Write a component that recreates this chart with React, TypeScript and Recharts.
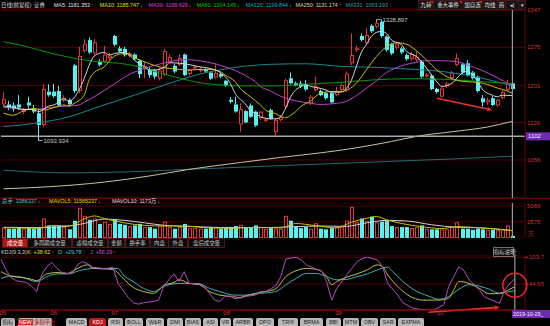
import React from 'react';
import { ComposedChart, Bar, Line, XAxis, YAxis, ReferenceLine, ReferenceDot, CartesianGrid } from 'recharts';

const FONT = '"Liberation Sans", Arial, "Noto Sans CJK SC", sans-serif';
const RED = '#e83636';
const CYAN = '#54f2f2';
const GRID = '#560000';
const AXIS = '#6a0000';
const TICK = '#d83030';
const UPA = '#ff3030';
const DNA = '#20e0e0';

// ---- candles (daily, 2019-05 .. 2019-10-29) ----
const openP = [
  1164, 1164, 1162, 1164, 1149, 1168, 1156, 1147, 1124, 1189,
  1189, 1190, 1171, 1173, 1240, 1190, 1268, 1289, 1263, 1247,
  1247, 1254, 1297, 1273, 1272, 1258, 1261, 1249, 1233, 1231,
  1230, 1214, 1222, 1247, 1239, 1241, 1261, 1223, 1234, 1229,
  1232, 1226, 1216, 1223, 1210, 1173, 1164, 1125, 1151, 1162,
  1150, 1137, 1132, 1153, 1110, 1134, 1160, 1215, 1205, 1205,
  1203, 1166, 1192, 1190, 1186, 1186, 1182, 1192, 1192, 1244,
  1270, 1297, 1283, 1317, 1315, 1325, 1296, 1281, 1274, 1273,
  1260, 1252, 1251, 1247, 1218, 1220, 1194, 1179, 1199, 1215,
  1241, 1242, 1244, 1226, 1218, 1176, 1168, 1176, 1162, 1176,
  1192, 1205,
];
const highP = [
  1188, 1171, 1168, 1182, 1157, 1179, 1163, 1153, 1203, 1203,
  1204, 1200, 1182, 1176, 1243, 1276, 1291, 1294, 1291, 1252,
  1278, 1264, 1299, 1277, 1276, 1266, 1264, 1252, 1247, 1236,
  1233, 1236, 1272, 1261, 1243, 1262, 1263, 1233, 1240, 1236,
  1234, 1228, 1242, 1225, 1212, 1178, 1179, 1166, 1153, 1166,
  1152, 1152, 1138, 1156, 1137, 1143, 1214, 1226, 1208, 1210,
  1211, 1182, 1218, 1193, 1188, 1190, 1198, 1205, 1228, 1302,
  1278, 1302, 1312, 1320, 1328.897, 1328, 1298, 1284, 1286, 1276,
  1263, 1266, 1267, 1250, 1225, 1223, 1196, 1198, 1208, 1229,
  1263, 1245, 1250, 1229, 1220, 1182, 1177, 1180, 1175, 1192,
  1212, 1208,
];
const lowP = [
  1160, 1153, 1150, 1153, 1145, 1156, 1147, 1093.934, 1121, 1179,
  1177, 1160, 1168, 1160, 1186, 1186, 1265, 1262, 1260, 1238,
  1244, 1250, 1277, 1264, 1257, 1255, 1249, 1215, 1215, 1216,
  1213, 1211, 1219, 1245, 1225, 1238, 1219, 1220, 1232, 1226,
  1225, 1211, 1214, 1215, 1198, 1166, 1148, 1111, 1127, 1138,
  1120, 1134, 1130, 1134, 1103, 1131, 1157, 1203, 1199, 1196,
  1190, 1163, 1189, 1180, 1173, 1165, 1180, 1190, 1189, 1240,
  1266, 1286, 1280, 1303, 1312, 1294, 1267, 1260, 1270, 1262,
  1249, 1249, 1247, 1215, 1216, 1192, 1185, 1177, 1196, 1212,
  1238, 1223, 1218, 1212, 1187, 1160, 1163, 1161, 1159, 1174,
  1190, 1192,
];
const closeP = [
  1175, 1158, 1155, 1158, 1153, 1162, 1150, 1124, 1194, 1182,
  1180, 1163, 1177, 1164, 1190, 1258, 1282, 1265, 1285, 1241,
  1261, 1259, 1280, 1267, 1260, 1263, 1252, 1223, 1238, 1221,
  1218, 1230, 1268, 1256, 1228, 1254, 1221, 1231, 1237, 1233,
  1228, 1214, 1225, 1218, 1201, 1169, 1150, 1155, 1129, 1140,
  1123, 1150, 1135, 1136, 1134, 1140, 1211, 1205, 1201, 1199,
  1193, 1179, 1199, 1182, 1176, 1168, 1190, 1202, 1224, 1260,
  1273, 1289, 1299, 1306, 1322, 1297, 1270, 1263, 1281, 1265,
  1252, 1262, 1257, 1218, 1222, 1194, 1188, 1195, 1205, 1226,
  1254, 1226, 1221, 1215, 1190, 1168, 1173, 1163, 1173, 1188,
  1205, 1194,
];
// volume, 万手
const volume = [
  1640, 1480, 1480, 1730, 1480, 1640, 1480, 1640, 3100, 2000,
  1890, 1890, 1730, 1380, 2750, 4790, 3520, 2900, 3100, 2240,
  2600, 2240, 3000, 2240, 2090, 1890, 2000, 2240, 1730, 1730,
  1480, 2000, 2600, 1730, 1480, 1730, 2240, 1580, 1580, 1480,
  1480, 1730, 1730, 1480, 1580, 1730, 1890, 2090, 1730, 1580,
  2000, 1730, 1480, 1580, 1480, 1480, 3520, 2750, 1890, 1580,
  1730, 1480, 2350, 1480, 1380, 1580, 1730, 1730, 2750, 4940,
  2500, 3100, 2750, 3400, 2500, 2600, 2750, 1890, 1730, 1730,
  1730, 1580, 1730, 2000, 1480, 1380, 1380, 1380, 1380, 1730,
  2500, 1480, 1480, 1300, 1480, 1380, 1300, 1300, 1300, 1400,
  2000, 338,
];

// moving averages: [candle index, value]
const ma5Pts = [[0,1161],[2,1158],[4,1154],[6,1154],[7,1150],[9,1161],[10,1163],[12,1175],[13,1170],[14,1177],[16,1214],[17,1240],[18,1258],[20,1265],[21,1260],[22,1263],[24,1265],[25,1260],[26,1250],[28,1237],[29,1231],[30,1231],[32,1237],[33,1245],[35,1244],[37,1241],[39,1237],[41,1234],[43,1226],[45,1205],[46,1185],[48,1165],[49,1152],[50,1147],[51,1140],[53,1136],[54,1136],[55,1140],[56,1157],[57,1179],[59,1199],[60,1202],[61,1199],[63,1195],[64,1192],[65,1188],[67,1188],[68,1195],[69,1210],[70,1237],[71,1265],[72,1280],[73,1296],[74,1304],[75,1306],[76,1302],[77,1289],[79,1280],[80,1267],[82,1257],[84,1234],[86,1208],[87,1199],[89,1205],[90,1215],[91,1225],[92,1228],[93,1222],[94,1210],[95,1194],[97,1182],[98,1179],[99,1182],[101,1181.353]];
const ma10Pts = [[0,1147],[2,1143],[4,1152],[6,1156],[8,1153],[10,1158],[12,1163],[13,1161],[14,1166],[16,1182],[17,1212],[18,1226],[20,1237],[21,1248],[22,1258],[24,1263],[25,1262],[26,1255],[28,1247],[29,1243],[31,1237],[33,1234],[35,1232],[37,1231],[39,1232],[41,1232],[43,1228],[44,1221],[46,1208],[47,1195],[49,1179],[51,1163],[52,1153],[54,1146],[55,1141],[56,1138],[57,1143],[58,1150],[59,1160],[61,1171],[62,1180],[63,1186],[65,1189],[66,1189],[67,1189],[70,1205],[72,1231],[74,1257],[76,1276],[78,1284],[80,1281],[82,1268],[84,1250],[86,1231],[88,1218],[90,1211],[92,1208],[94,1207],[96,1203],[98,1196],[100,1190],[101,1185.747]];
const ma20Pts = [[0,1158],[3,1156],[6,1154],[9,1158],[13,1161],[15,1163],[16,1168],[18,1179],[20,1191],[22,1204],[24,1217],[26,1227],[28,1234],[30,1240],[32,1245],[34,1249],[36,1251],[38,1250],[40,1247],[42,1243],[44,1237],[46,1230],[48,1220],[50,1208],[51,1199],[53,1190],[55,1180],[58,1171],[61,1166],[63,1164],[66,1166],[68,1170],[71,1188],[74,1210],[76,1226],[79,1239],[82,1246],[84,1249],[87,1249],[90,1247],[92,1241],[95,1230],[98,1216],[100,1205],[101,1199.629]];
const ma60Pts = [[0,1286],[3,1280],[7,1270],[11,1260],[15,1252],[19,1247],[23,1244],[27,1237],[31,1225],[35,1215],[39,1206],[43,1202],[47,1200],[51,1200],[54,1200],[60,1203],[67,1207],[74,1212],[80,1214],[87,1213],[94,1209],[101,1204.145]];
const ma120Pts = [[0,1121],[6,1127],[13,1140],[19,1160],[26,1182],[32,1202],[39,1223],[46,1236],[53,1242],[60,1243],[67,1238],[74,1236],[80,1233],[87,1228],[94,1217],[101,1199.844]];
const ma250Pts = [[0,1000],[9,1004],[20,1013],[29,1025],[37,1038],[47,1051],[55,1061],[63,1070],[69,1078],[77,1092],[82,1102],[90,1112],[96,1120],[101,1131.174]];
const ma331Pts = [[0,1036],[13,1031],[25,1033],[37,1038],[55,1045],[76,1053],[89,1058],[101,1063.193]];
const mavol5Pts = [[0,1650],[7,1550],[10,2000],[13,1900],[16,3000],[18,3500],[20,3100],[24,2400],[28,2000],[32,1900],[36,1900],[40,1650],[45,1550],[50,1700],[55,1600],[58,2300],[62,1950],[66,1600],[69,2500],[72,3100],[74,3400],[76,2900],[79,2300],[83,1800],[87,1500],[90,1800],[94,1650],[98,1400],[101,1156.5]];
const mavol10Pts = [[0,1700],[8,1650],[12,1800],[16,2300],[20,3000],[24,2800],[28,2400],[32,2000],[38,1800],[45,1650],[52,1650],[58,1800],[63,1900],[68,1850],[72,2400],[76,2800],[80,2700],[85,2100],[90,1700],[95,1600],[101,1173]];
// KDJ(9,3,3)
const kPts = [[0,72],[2,62],[4,59],[6,55],[7,52],[9,67],[11,70],[13,68],[15,79],[17,87],[18,80],[20,78],[22,77],[24,57],[26,37],[28,28],[30,24],[31,31],[32,42],[34,48],[35,54],[37,46],[39,43],[41,28],[43,20],[45,17],[46,13],[48,18],[50,24],[52,28],[54,34],[56,61],[58,74],[60,79],[62,77],[64,61],[65,43],[66,50],[68,60],[70,67],[72,76],[74,87],[75,83],[76,65],[78,39],[80,20],[83,9],[86,9],[88,13],[89,32],[90,50],[92,46],[94,35],[96,23],[98,24],[100,33],[101,38.62]];
const dPts = [[0,57],[2,62],[4,60],[7,50],[9,61],[11,67],[13,67],[16,76],[18,79],[21,79],[23,79],[24,65],[26,50],[28,35],[30,28],[32,39],[34,45],[36,46],[39,45],[41,35],[43,28],[46,20],[48,20],[51,24],[54,28],[56,43],[58,57],[60,68],[62,68],[64,61],[66,54],[68,55],[70,61],[72,67],[74,76],[76,82],[77,72],[79,50],[81,33],[84,18],[86,11],[88,17],[90,33],[92,43],[94,40],[96,33],[98,24],[100,28],[101,29.78]];
const jPts = [[0,99],[1,76],[2,58],[3,52],[4,50],[5,48],[6,40],[7,28],[8,65],[9,83],[10,92],[11,79],[12,70],[13,68],[14,67],[15,87],[16,94],[17,90],[18,82],[20,79],[21,79],[22,82],[23,46],[25,15],[26,3],[27,0],[28,3],[30,6],[31,9],[32,40],[33,54],[34,67],[35,50],[36,72],[37,46],[38,45],[39,46],[40,39],[42,9],[43,6],[44,17],[45,18],[46,17],[47,13],[48,17],[50,20],[51,28],[52,28],[54,40],[55,61],[56,100],[58,104],[59,98],[60,87],[62,77],[63,74],[64,50],[65,9],[66,35],[68,65],[70,94],[71,101],[72,104],[74,98],[75,83],[76,46],[78,20],[79,3],[81,-9],[83,-12.5],[85,-12.5],[87,-2],[88,39],[90,83],[91,74],[92,54],[94,32],[95,17],[96,11],[98,2],[99,31],[100,46],[101,56.29]];

const priceTicks = [1347, 1275, 1201, 1129, 1056];
const volTicks = [5069, 2575];
const kdjTicks = [103.7, 44.65];
const monthTickIdx = [0, 10, 22, 44, 66, 86];
const monthLabels = ['05', '06', '07', '08', '09', '10'];
const crossPrice = 1102;
const lastIdx = openP.length - 1;
const SLOTS = openP.length + 2;

const mapOf = (pts: number[][]) => new Map(pts.map(([i, v]) => [i, v] as [number, number]));
const M = {
  ma5: mapOf(ma5Pts), ma10: mapOf(ma10Pts), ma20: mapOf(ma20Pts), ma60: mapOf(ma60Pts),
  ma120: mapOf(ma120Pts), ma250: mapOf(ma250Pts), ma331: mapOf(ma331Pts),
  mv5: mapOf(mavol5Pts), mv10: mapOf(mavol10Pts), k: mapOf(kPts), d: mapOf(dPts), j: mapOf(jPts),
};

const rows = Array.from({ length: SLOTS }, (_, i) => {
  const has = i < openP.length;
  const r: any = {
    i,
    open: has ? openP[i] : null,
    high: has ? highP[i] : null,
    low: has ? lowP[i] : null,
    close: has ? closeP[i] : null,
    vol: has ? volume[i] : null,
    up: has ? closeP[i] >= openP[i] : false,
  };
  (Object.keys(M) as (keyof typeof M)[]).forEach((k) => { r[k] = M[k].has(i) ? M[k].get(i) : null; });
  return r;
});

let hiIdx = 0, loIdx = 0;
highP.forEach((v, i) => { if (v > highP[hiIdx]) hiIdx = i; });
lowP.forEach((v, i) => { if (v < lowP[loIdx]) loIdx = i; });

const CandleShape = (p: any) => {
  const { x, y, width, height, payload } = p;
  if (!payload || payload.open == null) return null;
  const top = Math.min(y, y + height);
  const h = Math.abs(height);
  const { open, close, high, low } = payload;
  const span = high - low || 1;
  const py = (v: number) => top + ((high - v) / span) * h;
  const cx = Math.round(x + width / 2 - 0.5);
  const up = close >= open;
  const col = up ? RED : CYAN;
  const bt = py(Math.max(open, close));
  const bh = Math.max(1, py(Math.min(open, close)) - bt);
  const wx = cx + 0.5;
  return (
    <g>
      <line x1={wx} x2={wx} y1={top} y2={bt} stroke={col} strokeWidth={1} />
      <line x1={wx} x2={wx} y1={bt + bh} y2={top + h} stroke={col} strokeWidth={1} />
      {up ? (
        <rect x={cx - 0.5} y={bt + 0.5} width={3} height={Math.max(0.5, bh - 1)} fill="#000" stroke={col} strokeWidth={1} />
      ) : (
        <rect x={cx - 1} y={bt} width={4} height={bh} fill={col} />
      )}
      {payload.i === loIdx && (
        <g>
          <polyline points={`${wx},${top + h - 2} ${wx},${top + h} ${wx + 4},${top + h}`} fill="none" stroke="#c8c8c8" strokeWidth={0.8} />
          <text x={wx + 5} y={top + h} dy="0.35em" fontSize={6} fill="#c8c8c8" fontFamily={FONT}>{String(low)}</text>
        </g>
      )}
      {payload.i === hiIdx && (
        <g>
          <polyline points={`${wx},${top + 2} ${wx},${top} ${wx + 5},${top}`} fill="none" stroke="#c8c8c8" strokeWidth={0.8} />
          <text x={wx + 6} y={top} dy="0.35em" fontSize={6} fill="#c8c8c8" fontFamily={FONT}>{String(high)}</text>
        </g>
      )}
    </g>
  );
};

const VolShape = (p: any) => {
  const { x, y, width, height, payload } = p;
  if (!payload || payload.vol == null) return null;
  const top = Math.min(y, y + height);
  const h = Math.max(1, Math.abs(height));
  const cx = Math.round(x + width / 2 - 0.5);
  if (payload.up) {
    return <rect x={cx - 0.5} y={top + 0.5} width={3} height={Math.max(0.5, h - 1)} fill="#000" stroke={RED} strokeWidth={1} />;
  }
  return <rect x={cx - 1} y={top} width={4} height={h} fill={CYAN} />;
};

const ArrowShape = (p: any) => {
  const { x1, y1, x2, y2 } = p;
  if ([x1, y1, x2, y2].some((v) => v == null || isNaN(v))) return null;
  const a = Math.atan2(y2 - y1, x2 - x1);
  const L = 5, W = 2.2;
  const bx = x2 - L * Math.cos(a), by = y2 - L * Math.sin(a);
  const pts = `${x2},${y2} ${bx - W * Math.sin(a)},${by + W * Math.cos(a)} ${bx + W * Math.sin(a)},${by - W * Math.cos(a)}`;
  return (
    <g>
      <line x1={x1} y1={y1} x2={bx} y2={by} stroke="#f03030" strokeWidth={1.6} />
      <polygon points={pts} fill="#f03030" />
    </g>
  );
};

const PriceTag = (p: any) => {
  const vb = p.viewBox;
  if (!vb) return null;
  const x = vb.x + vb.width + 1;
  const y = vb.y;
  return (
    <g>
      <rect x={x} y={y - 4} width={30} height={8} fill="#6c2bb0" />
      <text x={x + 2} y={y} dy="0.36em" fontSize={6} fill="#f4ecff" fontFamily={FONT}>{String(crossPrice)}</text>
    </g>
  );
};

const DateTick = (p: any) => {
  const { x, y, payload } = p;
  const k = monthTickIdx.indexOf(payload.value);
  return (
    <text x={x - 1.5} y={y + 5} fontSize={6} fill={TICK} fontFamily={FONT} textAnchor="start">{k >= 0 ? monthLabels[k] : ''}</text>
  );
};

const FS = 5.4;
// text + optional arrow, positioned at x (left) and y (top)
const Item = ({ x, y, c = '#d4d4d4', t, a, ac }: any) => (
  <div style={{ position: 'absolute', left: x, top: y, color: c, fontSize: FS, lineHeight: '8px', whiteSpace: 'nowrap' }}>
    {t}{a && <span style={{ color: ac, marginLeft: 1 }}>{a}</span>}
  </div>
);

const lineProps = { dot: false, activeDot: false, connectNulls: true, isAnimationActive: false, strokeWidth: 1 } as any;
const tickStyle = { fill: TICK, fontSize: 6, fontFamily: FONT };

const headerItems: [string, string, string, string, number][] = [
  ['日线(前复权)', '#d8d8d8', '', '', 2.5], ['证券', '#d8d8d8', '', '', 9],
  ['MA5: 1181.353', '#e4e4e4', '↑', UPA, 6],
  ['MA10: 1185.747', '#e8e800', '↓', DNA, 6],
  ['MA20: 1199.629', '#e040e0', '↓', DNA, 5],
  ['MA60: 1204.145', '#00d000', '↓', DNA, 6],
  ['MA120: 1199.844', '#00b8c8', '↓', DNA, 4],
  ['MA250: 1131.174', '#e0d8a0', '↑', UPA, 4],
  ['MA331: 1063.193', '#2ea0a8', '↑', UPA, 0],
];
const buttons: [string, number, number, boolean][] = [
  ['九转', 418, 433, true], ['重大事件', 433, 462, true], ['加自选', 462, 482, true],
  ['均线', 482, 497, false], ['画', 497, 505, false], ['◂|', 505, 518, false], ['▾', 518, 525, false],
];
const volTabs: [string, number, number][] = [
  ['成交量', 2, 27], ['多周期成交量', 27, 71], ['虚拟成交量', 72, 107], ['金额', 108, 124],
  ['换手率', 125, 149], ['内盘', 150, 168], ['外盘', 168, 187], ['盘后成交量', 188, 224],
];
const indTabs: [string, number, number][] = [
  ['指标', 1, 16], ['MACD', 66, 88], ['KDJ', 89, 107], ['RSI', 108, 124], ['BOLL', 125, 144],
  ['W&R', 146, 165], ['DMI', 167, 184], ['BIAS', 185, 202], ['ASI', 203, 219], ['VR', 220, 232],
  ['ARBR', 233, 254], ['DPO', 256, 275], ['TRIX', 278, 299], ['BRMA', 300, 324], ['BBI', 326, 342],
  ['MTM', 343, 360], ['OBV', 361, 379], ['SAR', 380, 397], ['EXPMA', 398, 425],
];

export default function App() {
  return (
    <div style={{ position: 'relative', width: 550, height: 326, background: '#000', overflow: 'hidden', fontFamily: FONT }}>
      <style>{'body{margin:0;background:#000}'}</style>

      {/* main price panel: plot area y 9..198 */}
      <div style={{ position: 'absolute', left: 0, top: 0 }}>
        <ComposedChart width={550} height={198} data={rows} margin={{ top: 9, right: 0, bottom: 0, left: 1 }}>
          <CartesianGrid horizontal vertical={false} stroke={GRID} />
          <XAxis dataKey="i" hide />
          <YAxis orientation="right" width={25} domain={[982.1, 1349.5]} allowDataOverflow type="number" ticks={priceTicks} interval={0}
            tick={tickStyle} tickLine={false} tickSize={0} tickMargin={2} axisLine={{ stroke: AXIS }} />
          <Line dataKey="ma331" stroke="#256a72" type="monotone" {...lineProps} />
          <Line dataKey="ma250" stroke="#c8c49a" type="monotone" {...lineProps} />
          <ReferenceLine y={crossPrice} stroke="#a8a8a8" strokeWidth={1.5} label={<PriceTag />} />
          <Line dataKey="ma120" stroke="#16888e" type="monotone" {...lineProps} />
          <Line dataKey="ma60" stroke="#009a00" type="monotone" {...lineProps} />
          <Bar dataKey={(d: any) => (d.open == null ? null : [d.low, d.high])} shape={CandleShape} barSize={3} isAnimationActive={false} />
          <Line dataKey="ma20" stroke="#c040d0" type="monotone" {...lineProps} />
          <Line dataKey="ma10" stroke="#c4c000" type="monotone" {...lineProps} />
          <Line dataKey="ma5" stroke="#d8d8d8" type="monotone" {...lineProps} />
          <ReferenceLine x={lastIdx} stroke="#9a9a9a" strokeWidth={1.2} />
          <ReferenceLine segment={[{ x: 86, y: 1176 }, { x: 97, y: 1153 }]} shape={ArrowShape} ifOverflow="visible" />
        </ComposedChart>
      </div>

      {/* volume panel */}
      <div style={{ position: 'absolute', left: 0, top: 203 }}>
        <ComposedChart width={550} height={35} data={rows} margin={{ top: 0, right: 0, bottom: 0, left: 1 }}>
          <CartesianGrid horizontal vertical={false} stroke={GRID} />
          <XAxis dataKey="i" hide />
          <YAxis orientation="right" width={25} domain={[0, 5556]} allowDataOverflow type="number" ticks={volTicks} interval={0}
            tick={tickStyle} tickLine={false} tickSize={0} tickMargin={2} axisLine={{ stroke: AXIS }} />
          <Bar dataKey="vol" shape={VolShape} barSize={3} isAnimationActive={false} />
          <Line dataKey="mv10" stroke="#d0d0d0" type="monotone" {...lineProps} />
          <Line dataKey="mv5" stroke="#c8c400" type="monotone" {...lineProps} />
          <ReferenceLine x={lastIdx} stroke="#9a9a9a" strokeWidth={1.2} />
        </ComposedChart>
      </div>

      {/* KDJ panel */}
      <div style={{ position: 'absolute', left: 0, top: 255 }}>
        <ComposedChart width={550} height={64} data={rows} margin={{ top: 0, right: 0, bottom: 0, left: 1 }}>
          <CartesianGrid horizontal vertical={false} stroke={GRID} />
          <XAxis dataKey="i" ticks={monthTickIdx} interval={0} tickLine={false} tickSize={0} tickMargin={0} height={9}
            axisLine={{ stroke: '#a00000' }} tick={<DateTick />} />
          <YAxis orientation="right" width={25} domain={[-12.9, 108.8]} allowDataOverflow type="number" ticks={kdjTicks} interval={0}
            tick={tickStyle} tickLine={{ stroke: TICK }} tickSize={3} tickMargin={1} axisLine={{ stroke: AXIS }} />
          <Line dataKey="d" stroke="#34b4b4" type="monotone" {...lineProps} />
          <Line dataKey="k" stroke="#c0c050" type="monotone" {...lineProps} />
          <Line dataKey="j" stroke="#b848c8" type="linear" {...lineProps} />
          <ReferenceLine x={lastIdx} stroke="#9a9a9a" strokeWidth={1.2} ifOverflow="visible" />
          <ReferenceDot x={lastIdx} y={42} r={12} fill="none" stroke="#e82828" strokeWidth={1.5} ifOverflow="visible" />
          <ReferenceLine segment={[{ x: 84, y: -17.9 }, { x: 98, y: -6.9 }]} shape={ArrowShape} ifOverflow="visible" />
        </ComposedChart>
      </div>

      {/* panel separator */}
      <div style={{ position: 'absolute', left: 0, top: 198, width: 550, height: 1, background: '#6a0000' }} />

      {/* header */}
      <div style={{ position: 'absolute', left: 1, top: 1, display: 'flex', fontSize: FS, lineHeight: '8px', whiteSpace: 'nowrap' }}>
        {headerItems.map(([t, c, a, ac, gap], k) => (
          <div key={k} style={{ color: c, marginRight: gap }}>
            {t}{a && <span style={{ color: ac, marginLeft: 1 }}>{a}</span>}
          </div>
        ))}
      </div>
      {buttons.map(([t, a, b, mark], k) => (
        <div key={k} style={{ position: 'absolute', left: a, top: 0, width: b - a - 1, height: 8, border: '0.5px solid #4a1212', background: '#151515',
          color: '#e4e4e4', fontSize: FS, lineHeight: '8px', textAlign: 'center', whiteSpace: 'nowrap', overflow: 'hidden' }}>
          {t}
          {mark && <div style={{ position: 'absolute', right: 0, top: 0, width: 0, height: 0, borderTop: '3px solid #e02020', borderLeft: '3px solid transparent' }} />}
        </div>
      ))}

      {/* volume header */}
      <Item x={2} y={197} c="#58c8c8" t="总手: 3386337" a="↓" ac={DNA} />
      <Item x={49} y={197} c="#e0e000" t="MAVOL5: 11565237" a="↓" ac={DNA} />
      <Item x={112} y={197} c="#e0e0e0" t="MAVOL10: 1173万" a="↓" ac={DNA} />
      <Item x={528} y={230} c={TICK} t="万" />

      {/* volume tabs */}
      {volTabs.map(([t, a, b], k) => (
        <div key={k} style={{ position: 'absolute', left: a, top: 238, width: b - a - 1, height: 8, border: '0.5px solid #5a1414',
          background: k === 0 ? '#b01818' : '#0c0c0c', color: k === 0 ? '#fff' : '#c8c8c8', fontSize: FS, lineHeight: '8px', textAlign: 'center', whiteSpace: 'nowrap' }}>{t}</div>
      ))}

      {/* KDJ header */}
      <Item x={1} y={248} c="#d4d4d4" t="KDJ(9,3,3)" />
      <Item x={27} y={248} c="#e0e040" t="K: +38.62" a="↑" ac={UPA} />
      <Item x={58} y={248} c="#40d0d0" t="D: +29.78" a="↑" ac={UPA} />
      <Item x={90} y={248} c="#d050d0" t="J: +56.29" a="↑" ac={UPA} />
      <div style={{ position: 'absolute', left: 493, top: 247, width: 19, height: 8, border: '0.5px solid #707070', background: '#0a0a0a',
        color: '#d0d0d0', fontSize: FS, lineHeight: '8px', textAlign: 'center', whiteSpace: 'nowrap' }}>指标说明</div>

      {/* date tag */}
      <div style={{ position: 'absolute', left: 512, top: 310, width: 38, height: 8, background: '#6c2bb0', color: '#f4ecff', fontSize: FS,
        lineHeight: '8px', whiteSpace: 'nowrap', overflow: 'hidden', paddingLeft: 1, boxSizing: 'border-box' }}>2019-10-29_</div>

      {/* indicator tabs */}
      {indTabs.map(([t, a, b], k) => (
        <div key={k} style={{ position: 'absolute', left: a, top: 318, width: b - a - 1, height: 8, borderRadius: '2px 2px 0 0',
          background: t === 'KDJ' ? '#c01818' : '#b8b8b8', color: t === 'KDJ' ? '#fff' : '#222', fontSize: FS, lineHeight: '8px', textAlign: 'center', whiteSpace: 'nowrap' }}>{t}</div>
      ))}
      <div style={{ position: 'absolute', left: 18, top: 318, width: 34, height: 8, borderRadius: '2px 2px 0 0', background: '#b8b8b8', fontSize: FS, lineHeight: '8px', whiteSpace: 'nowrap' }}>
        <span style={{ background: '#e02020', color: '#fff', padding: '0 1px' }}>NEW</span>
        <span style={{ color: '#c01010' }}> 多指平台</span>
      </div>
    </div>
  );
}
